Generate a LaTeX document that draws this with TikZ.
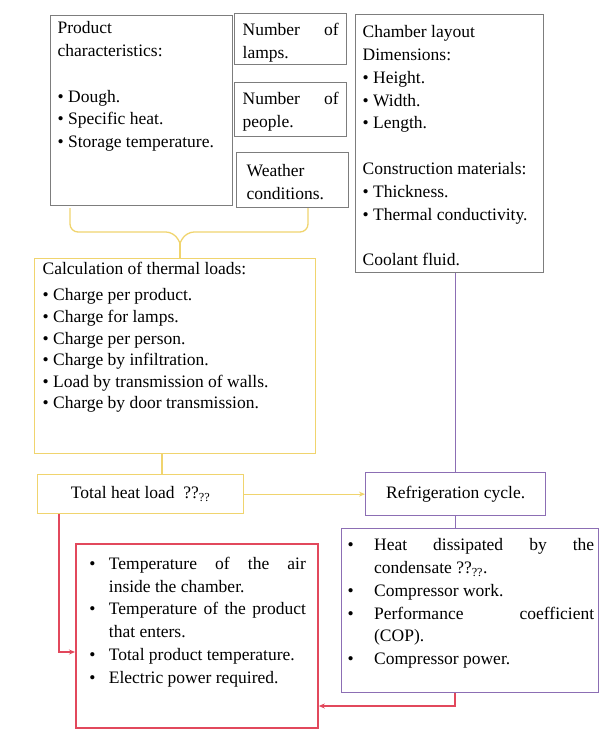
\documentclass[tikz,border=0pt]{standalone}
\usepackage{fontspec}
\setmainfont{Liberation Serif}
\usetikzlibrary{arrows.meta}
\definecolor{ylw}{RGB}{240,212,110}
\definecolor{prp}{RGB}{140,110,180}
\definecolor{redl}{RGB}{226,72,92}
\definecolor{gry}{RGB}{125,125,125}
\newcommand{\boxtxt}[3]{\parbox[c][#2][t]{#1}{#3}}
\newcommand{\itm}[2]{\par\hangindent=#1\hangafter=1\noindent\makebox[#1][l]{\hspace{1.5pt}\textbullet}#2}

\begin{document}
\begin{tikzpicture}[x=1pt,y=-1pt,
  font=\fontsize{17.5}{22.8}\selectfont,
  box/.style={draw,line width=1.3pt,anchor=north west},
  gbox/.style={box,draw=gry},
  ybox/.style={box,draw=ylw},
  pbox/.style={box,draw=prp},
  outbox/.style={box,draw=redl,line width=1.8pt},
  link/.style={line width=1.3pt},
  tip/.style={-{Stealth[length=6pt,width=5pt]}}]
  \useasboundingbox (0,0) rectangle (600,730);

  % input data
  \node[gbox,inner xsep=7pt,inner ysep=6pt] (prod) at (50,15) {\boxtxt{168pt}{178pt}{%
    Product\\characteristics:\\[22.8pt]
    \textbullet\ Dough.\\
    \textbullet\ Specific heat.\\
    \textbullet\ Storage temperature.}};
  \node[gbox,inner xsep=8pt,inner ysep=10pt] (lamps) at (234,13) {\boxtxt{96pt}{31pt}{%
    Number of\linebreak lamps.}};
  \node[gbox,inner xsep=8pt,inner ysep=10pt] (peop) at (234,82) {\boxtxt{96pt}{34pt}{%
    Number of\linebreak people.}};
  \node[gbox,inner xsep=10pt,inner ysep=12pt] (wthr) at (236,152) {\boxtxt{92pt}{31pt}{\raggedright
    Weather\\conditions.}};
  \node[gbox,inner xsep=7pt,inner ysep=11pt] (cham) at (355,14) {\boxtxt{174pt}{236pt}{%
    Chamber layout\\Dimensions:\\
    \textbullet\ Height.\\
    \textbullet\ Width.\\
    \textbullet\ Length.\\[22.8pt]
    Construction materials:\\
    \textbullet\ Thickness.\\
    \textbullet\ Thermal conductivity.\\[22.8pt]
    Coolant fluid.}};

  % thermal loads
  \node[ybox,inner xsep=8pt,inner ysep=4pt] (calc) at (34,258) {\boxtxt{265pt}{187pt}{%
    \fontsize{17.5}{21.6}\selectfont
    Calculation of thermal loads:\\[4.4pt]
    \textbullet\ Charge per product.\\
    \textbullet\ Charge for lamps.\\
    \textbullet\ Charge per person.\\
    \textbullet\ Charge by infiltration.\\
    \textbullet\ Load by transmission of walls.\\
    \textbullet\ Charge by door transmission.}};
  \node[ybox,minimum width=206pt,minimum height=39pt,inner sep=0pt] (tot) at (37,474)
    {Total heat load\enspace ??\textsubscript{??}};
  \node[pbox,minimum width=180pt,minimum height=43pt,inner sep=0pt] (ref) at (365,472)
    {Refrigeration cycle.};

  % results
  \node[pbox,inner xsep=4.5pt,inner ysep=10pt] (heat) at (341,528) {\boxtxt{248pt}{144pt}{%
    \itm{28pt}{Heat dissipated by the\linebreak condensate ??\textsubscript{??}.}
    \itm{28pt}{Compressor work.}
    \itm{28pt}{Performance coefficient\linebreak (COP).}
    \itm{28pt}{Compressor power.}}};
  \node[outbox,inner xsep=12pt,inner ysep=13pt] (res) at (75,543) {\boxtxt{218pt}{158pt}{%
    \itm{21pt}{Temperature of the air\linebreak inside the chamber.}
    \itm{21pt}{Temperature of the product\linebreak that enters.}
    \itm{21pt}{Total product temperature.}
    \itm{21pt}{Electric power required.}}};

  % brace under the inputs
  \coordinate (bt) at (180,243);
  \draw[link,ylw,rounded corners=8pt] (70,208) -- (70,232) -- (174,232) -- (bt);
  \draw[link,ylw,rounded corners=8pt] (308,208) -- (308,232) -- (186,232) -- (bt);
  \draw[link,ylw] (bt) -- (calc.north -| bt);

  % connectors
  \coordinate (cj) at (162,465);
  \coordinate (cl) at (59,652);
  \coordinate (cr) at (455,706);
  \draw[link,ylw] (calc.south -| cj) -- (tot.north -| cj);
  \draw[link,ylw,tip] (tot.east) -- (ref.west);
  \draw[link,prp] (ref.north |- cham.south) -- (ref.north);
  \draw[link,prp] (ref.south) -- (heat.north -| ref.south);
  \draw[link,redl,tip] (tot.south -| cl) |- (res.west |- cl);
  \draw[link,redl,tip] (heat.south -| cr) |- (res.east |- cr);
\end{tikzpicture}
\end{document}
